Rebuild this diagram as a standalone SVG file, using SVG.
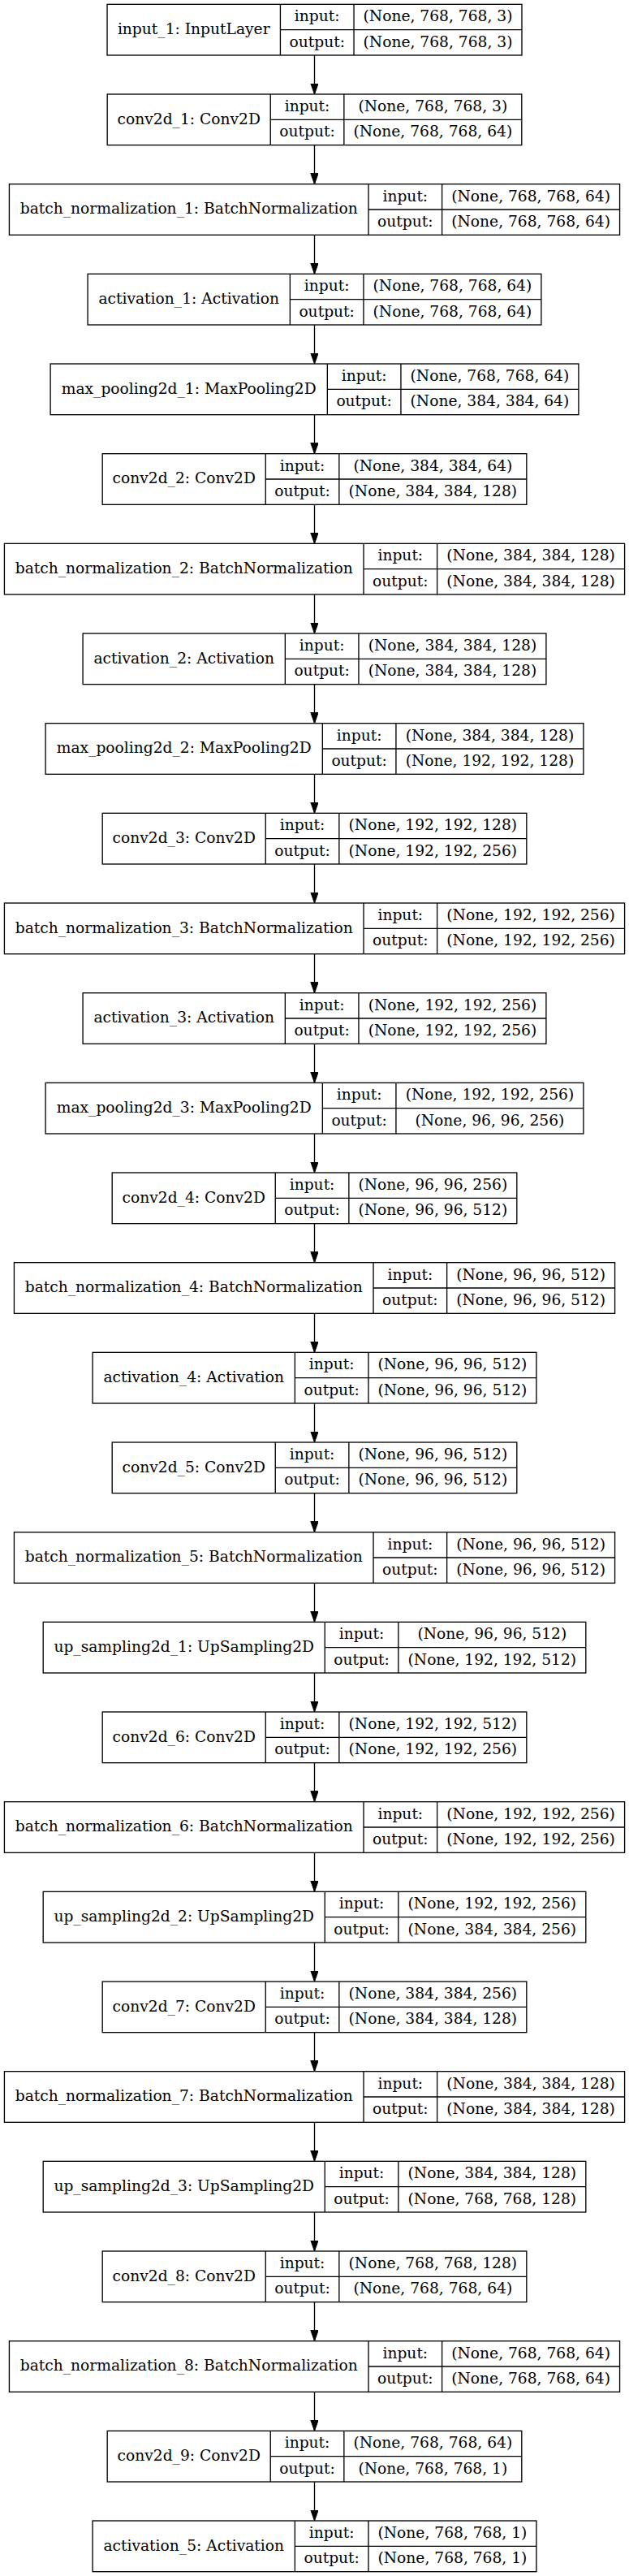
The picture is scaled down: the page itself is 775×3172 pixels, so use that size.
<svg xmlns="http://www.w3.org/2000/svg" width="775" height="3172" viewBox="0 0 775 3172">
<style>
.box{fill:#fff;stroke:#000;stroke-width:1.33}
.sep{fill:none;stroke:#000;stroke-width:1.33}
.edge{fill:none;stroke:#000;stroke-width:1.33}
text{font-family:"DejaVu Serif","Liberation Serif",serif;font-size:18.67px;fill:#000;text-anchor:middle}
</style>
<defs>
<marker id="ah" markerUnits="userSpaceOnUse" viewBox="0 0 14 10" refX="13.33" refY="4.67" markerWidth="14" markerHeight="10" orient="auto">
<path d="M0,0 L13.33,4.67 L0,9.33 Z" fill="#000" stroke="#000" stroke-width="1"/>
</marker>
</defs>
<rect width="775" height="3172" fill="#fff"/>
<g id="connectors">
<path class="edge" marker-end="url(#ah)" d="M387.5,68 V116"/>
<path class="edge" marker-end="url(#ah)" d="M387.5,178.67 V226.67"/>
<path class="edge" marker-end="url(#ah)" d="M387.5,289.33 V337.33"/>
<path class="edge" marker-end="url(#ah)" d="M387.5,400 V448"/>
<path class="edge" marker-end="url(#ah)" d="M387.5,510.67 V558.67"/>
<path class="edge" marker-end="url(#ah)" d="M387.5,621.33 V669.33"/>
<path class="edge" marker-end="url(#ah)" d="M387.5,732 V780"/>
<path class="edge" marker-end="url(#ah)" d="M387.5,842.67 V890.67"/>
<path class="edge" marker-end="url(#ah)" d="M387.5,953.33 V1001.33"/>
<path class="edge" marker-end="url(#ah)" d="M387.5,1064 V1112"/>
<path class="edge" marker-end="url(#ah)" d="M387.5,1174.67 V1222.67"/>
<path class="edge" marker-end="url(#ah)" d="M387.5,1285.33 V1333.33"/>
<path class="edge" marker-end="url(#ah)" d="M387.5,1396 V1444"/>
<path class="edge" marker-end="url(#ah)" d="M387.5,1506.67 V1554.67"/>
<path class="edge" marker-end="url(#ah)" d="M387.5,1617.33 V1665.33"/>
<path class="edge" marker-end="url(#ah)" d="M387.5,1728 V1776"/>
<path class="edge" marker-end="url(#ah)" d="M387.5,1838.67 V1886.67"/>
<path class="edge" marker-end="url(#ah)" d="M387.5,1949.33 V1997.33"/>
<path class="edge" marker-end="url(#ah)" d="M387.5,2060 V2108"/>
<path class="edge" marker-end="url(#ah)" d="M387.5,2170.67 V2218.67"/>
<path class="edge" marker-end="url(#ah)" d="M387.5,2281.33 V2329.33"/>
<path class="edge" marker-end="url(#ah)" d="M387.5,2392 V2440"/>
<path class="edge" marker-end="url(#ah)" d="M387.5,2502.67 V2550.67"/>
<path class="edge" marker-end="url(#ah)" d="M387.5,2613.33 V2661.33"/>
<path class="edge" marker-end="url(#ah)" d="M387.5,2724 V2772"/>
<path class="edge" marker-end="url(#ah)" d="M387.5,2834.67 V2882.67"/>
<path class="edge" marker-end="url(#ah)" d="M387.5,2945.33 V2993.33"/>
<path class="edge" marker-end="url(#ah)" d="M387.5,3056 V3104"/>
</g>

<g id="input_1" transform="translate(0,5.33)">
<rect class="box" x="132.03" y="0" width="510.95" height="62.67"/>
<path class="sep" d="M345.43,0 V62.67 M436.03,0 V62.67 M345.43,31.33 H642.98"/>
<text x="238.73" y="36.73">input_1: InputLayer</text>
<text x="390.73" y="21.07">input:</text><text x="390.73" y="52.4">output:</text>
<text x="539.5" y="21.07">(None, 768, 768, 3)</text><text x="539.5" y="52.4">(None, 768, 768, 3)</text>
</g>

<g id="conv2d_1" transform="translate(0,116)">
<rect class="box" x="132.19" y="0" width="510.62" height="62.67"/>
<path class="sep" d="M333.25,0 V62.67 M423.85,0 V62.67 M333.25,31.33 H642.81"/>
<text x="232.72" y="36.73">conv2d_1: Conv2D</text>
<text x="378.55" y="21.07">input:</text><text x="378.55" y="52.4">output:</text>
<text x="533.33" y="21.07">(None, 768, 768, 3)</text><text x="533.33" y="52.4">(None, 768, 768, 64)</text>
</g>

<g id="batch_normalization_1" transform="translate(0,226.67)">
<rect class="box" x="11.42" y="0" width="752.16" height="62.67"/>
<path class="sep" d="M454.02,0 V62.67 M544.62,0 V62.67 M454.02,31.33 H763.58"/>
<text x="232.72" y="36.73">batch_normalization_1: BatchNormalization</text>
<text x="499.32" y="21.07">input:</text><text x="499.32" y="52.4">output:</text>
<text x="654.1" y="21.07">(None, 768, 768, 64)</text><text x="654.1" y="52.4">(None, 768, 768, 64)</text>
</g>

<g id="activation_1" transform="translate(0,337.33)">
<rect class="box" x="108.09" y="0" width="558.82" height="62.67"/>
<path class="sep" d="M357.35,0 V62.67 M447.95,0 V62.67 M357.35,31.33 H666.91"/>
<text x="232.72" y="36.73">activation_1: Activation</text>
<text x="402.65" y="21.07">input:</text><text x="402.65" y="52.4">output:</text>
<text x="557.43" y="21.07">(None, 768, 768, 64)</text><text x="557.43" y="52.4">(None, 768, 768, 64)</text>
</g>

<g id="max_pooling2d_1" transform="translate(0,448)">
<rect class="box" x="62.11" y="0" width="650.79" height="62.67"/>
<path class="sep" d="M403.34,0 V62.67 M493.94,0 V62.67 M403.34,31.33 H712.9"/>
<text x="232.72" y="36.73">max_pooling2d_1: MaxPooling2D</text>
<text x="448.64" y="21.07">input:</text><text x="448.64" y="52.4">output:</text>
<text x="603.42" y="21.07">(None, 768, 768, 64)</text><text x="603.42" y="52.4">(None, 384, 384, 64)</text>
</g>

<g id="conv2d_2" transform="translate(0,558.67)">
<rect class="box" x="126.19" y="0" width="522.63" height="62.67"/>
<path class="sep" d="M327.25,0 V62.67 M417.85,0 V62.67 M327.25,31.33 H648.82"/>
<text x="226.72" y="36.73">conv2d_2: Conv2D</text>
<text x="372.55" y="21.07">input:</text><text x="372.55" y="52.4">output:</text>
<text x="533.34" y="21.07">(None, 384, 384, 64)</text><text x="533.34" y="52.4">(None, 384, 384, 128)</text>
</g>

<g id="batch_normalization_2" transform="translate(0,669.33)">
<rect class="box" x="5.42" y="0" width="764.17" height="62.67"/>
<path class="sep" d="M448.02,0 V62.67 M538.62,0 V62.67 M448.02,31.33 H769.59"/>
<text x="226.72" y="36.73">batch_normalization_2: BatchNormalization</text>
<text x="493.32" y="21.07">input:</text><text x="493.32" y="52.4">output:</text>
<text x="654.1" y="21.07">(None, 384, 384, 128)</text><text x="654.1" y="52.4">(None, 384, 384, 128)</text>
</g>

<g id="activation_2" transform="translate(0,780)">
<rect class="box" x="102.09" y="0" width="570.83" height="62.67"/>
<path class="sep" d="M351.35,0 V62.67 M441.95,0 V62.67 M351.35,31.33 H672.92"/>
<text x="226.72" y="36.73">activation_2: Activation</text>
<text x="396.65" y="21.07">input:</text><text x="396.65" y="52.4">output:</text>
<text x="557.44" y="21.07">(None, 384, 384, 128)</text><text x="557.44" y="52.4">(None, 384, 384, 128)</text>
</g>

<g id="max_pooling2d_2" transform="translate(0,890.67)">
<rect class="box" x="56.1" y="0" width="662.8" height="62.67"/>
<path class="sep" d="M397.33,0 V62.67 M487.93,0 V62.67 M397.33,31.33 H718.9"/>
<text x="226.72" y="36.73">max_pooling2d_2: MaxPooling2D</text>
<text x="442.63" y="21.07">input:</text><text x="442.63" y="52.4">output:</text>
<text x="603.42" y="21.07">(None, 384, 384, 128)</text><text x="603.42" y="52.4">(None, 192, 192, 128)</text>
</g>

<g id="conv2d_3" transform="translate(0,1001.33)">
<rect class="box" x="126.19" y="0" width="522.63" height="62.67"/>
<path class="sep" d="M327.25,0 V62.67 M417.85,0 V62.67 M327.25,31.33 H648.82"/>
<text x="226.72" y="36.73">conv2d_3: Conv2D</text>
<text x="372.55" y="21.07">input:</text><text x="372.55" y="52.4">output:</text>
<text x="533.34" y="21.07">(None, 192, 192, 128)</text><text x="533.34" y="52.4">(None, 192, 192, 256)</text>
</g>

<g id="batch_normalization_3" transform="translate(0,1112)">
<rect class="box" x="5.42" y="0" width="764.17" height="62.67"/>
<path class="sep" d="M448.02,0 V62.67 M538.62,0 V62.67 M448.02,31.33 H769.59"/>
<text x="226.72" y="36.73">batch_normalization_3: BatchNormalization</text>
<text x="493.32" y="21.07">input:</text><text x="493.32" y="52.4">output:</text>
<text x="654.1" y="21.07">(None, 192, 192, 256)</text><text x="654.1" y="52.4">(None, 192, 192, 256)</text>
</g>

<g id="activation_3" transform="translate(0,1222.67)">
<rect class="box" x="102.09" y="0" width="570.83" height="62.67"/>
<path class="sep" d="M351.35,0 V62.67 M441.95,0 V62.67 M351.35,31.33 H672.92"/>
<text x="226.72" y="36.73">activation_3: Activation</text>
<text x="396.65" y="21.07">input:</text><text x="396.65" y="52.4">output:</text>
<text x="557.44" y="21.07">(None, 192, 192, 256)</text><text x="557.44" y="52.4">(None, 192, 192, 256)</text>
</g>

<g id="max_pooling2d_3" transform="translate(0,1333.33)">
<rect class="box" x="56.1" y="0" width="662.8" height="62.67"/>
<path class="sep" d="M397.33,0 V62.67 M487.93,0 V62.67 M397.33,31.33 H718.9"/>
<text x="226.72" y="36.73">max_pooling2d_3: MaxPooling2D</text>
<text x="442.63" y="21.07">input:</text><text x="442.63" y="52.4">output:</text>
<text x="603.42" y="21.07">(None, 192, 192, 256)</text><text x="603.42" y="52.4">(None, 96, 96, 256)</text>
</g>

<g id="conv2d_4" transform="translate(0,1444)">
<rect class="box" x="138.2" y="0" width="498.61" height="62.67"/>
<path class="sep" d="M339.26,0 V62.67 M429.86,0 V62.67 M339.26,31.33 H636.8"/>
<text x="238.73" y="36.73">conv2d_4: Conv2D</text>
<text x="384.56" y="21.07">input:</text><text x="384.56" y="52.4">output:</text>
<text x="533.33" y="21.07">(None, 96, 96, 256)</text><text x="533.33" y="52.4">(None, 96, 96, 512)</text>
</g>

<g id="batch_normalization_4" transform="translate(0,1554.67)">
<rect class="box" x="17.43" y="0" width="740.15" height="62.67"/>
<path class="sep" d="M460.03,0 V62.67 M550.63,0 V62.67 M460.03,31.33 H757.58"/>
<text x="238.73" y="36.73">batch_normalization_4: BatchNormalization</text>
<text x="505.33" y="21.07">input:</text><text x="505.33" y="52.4">output:</text>
<text x="654.1" y="21.07">(None, 96, 96, 512)</text><text x="654.1" y="52.4">(None, 96, 96, 512)</text>
</g>

<g id="activation_4" transform="translate(0,1665.33)">
<rect class="box" x="114.1" y="0" width="546.81" height="62.67"/>
<path class="sep" d="M363.36,0 V62.67 M453.96,0 V62.67 M363.36,31.33 H660.91"/>
<text x="238.73" y="36.73">activation_4: Activation</text>
<text x="408.66" y="21.07">input:</text><text x="408.66" y="52.4">output:</text>
<text x="557.44" y="21.07">(None, 96, 96, 512)</text><text x="557.44" y="52.4">(None, 96, 96, 512)</text>
</g>

<g id="conv2d_5" transform="translate(0,1776)">
<rect class="box" x="138.2" y="0" width="498.61" height="62.67"/>
<path class="sep" d="M339.26,0 V62.67 M429.86,0 V62.67 M339.26,31.33 H636.8"/>
<text x="238.73" y="36.73">conv2d_5: Conv2D</text>
<text x="384.56" y="21.07">input:</text><text x="384.56" y="52.4">output:</text>
<text x="533.33" y="21.07">(None, 96, 96, 512)</text><text x="533.33" y="52.4">(None, 96, 96, 512)</text>
</g>

<g id="batch_normalization_5" transform="translate(0,1886.67)">
<rect class="box" x="17.43" y="0" width="740.15" height="62.67"/>
<path class="sep" d="M460.03,0 V62.67 M550.63,0 V62.67 M460.03,31.33 H757.58"/>
<text x="238.73" y="36.73">batch_normalization_5: BatchNormalization</text>
<text x="505.33" y="21.07">input:</text><text x="505.33" y="52.4">output:</text>
<text x="654.1" y="21.07">(None, 96, 96, 512)</text><text x="654.1" y="52.4">(None, 96, 96, 512)</text>
</g>

<g id="up_sampling2d_1" transform="translate(0,1997.33)">
<rect class="box" x="53.19" y="0" width="668.62" height="62.67"/>
<path class="sep" d="M400.24,0 V62.67 M490.84,0 V62.67 M400.24,31.33 H721.81"/>
<text x="226.72" y="36.73">up_sampling2d_1: UpSampling2D</text>
<text x="445.54" y="21.07">input:</text><text x="445.54" y="52.4">output:</text>
<text x="606.33" y="21.07">(None, 96, 96, 512)</text><text x="606.33" y="52.4">(None, 192, 192, 512)</text>
</g>

<g id="conv2d_6" transform="translate(0,2108)">
<rect class="box" x="126.19" y="0" width="522.63" height="62.67"/>
<path class="sep" d="M327.25,0 V62.67 M417.85,0 V62.67 M327.25,31.33 H648.82"/>
<text x="226.72" y="36.73">conv2d_6: Conv2D</text>
<text x="372.55" y="21.07">input:</text><text x="372.55" y="52.4">output:</text>
<text x="533.34" y="21.07">(None, 192, 192, 512)</text><text x="533.34" y="52.4">(None, 192, 192, 256)</text>
</g>

<g id="batch_normalization_6" transform="translate(0,2218.67)">
<rect class="box" x="5.42" y="0" width="764.17" height="62.67"/>
<path class="sep" d="M448.02,0 V62.67 M538.62,0 V62.67 M448.02,31.33 H769.59"/>
<text x="226.72" y="36.73">batch_normalization_6: BatchNormalization</text>
<text x="493.32" y="21.07">input:</text><text x="493.32" y="52.4">output:</text>
<text x="654.1" y="21.07">(None, 192, 192, 256)</text><text x="654.1" y="52.4">(None, 192, 192, 256)</text>
</g>

<g id="up_sampling2d_2" transform="translate(0,2329.33)">
<rect class="box" x="53.19" y="0" width="668.62" height="62.67"/>
<path class="sep" d="M400.24,0 V62.67 M490.84,0 V62.67 M400.24,31.33 H721.81"/>
<text x="226.72" y="36.73">up_sampling2d_2: UpSampling2D</text>
<text x="445.54" y="21.07">input:</text><text x="445.54" y="52.4">output:</text>
<text x="606.33" y="21.07">(None, 192, 192, 256)</text><text x="606.33" y="52.4">(None, 384, 384, 256)</text>
</g>

<g id="conv2d_7" transform="translate(0,2440)">
<rect class="box" x="126.19" y="0" width="522.63" height="62.67"/>
<path class="sep" d="M327.25,0 V62.67 M417.85,0 V62.67 M327.25,31.33 H648.82"/>
<text x="226.72" y="36.73">conv2d_7: Conv2D</text>
<text x="372.55" y="21.07">input:</text><text x="372.55" y="52.4">output:</text>
<text x="533.34" y="21.07">(None, 384, 384, 256)</text><text x="533.34" y="52.4">(None, 384, 384, 128)</text>
</g>

<g id="batch_normalization_7" transform="translate(0,2550.67)">
<rect class="box" x="5.42" y="0" width="764.17" height="62.67"/>
<path class="sep" d="M448.02,0 V62.67 M538.62,0 V62.67 M448.02,31.33 H769.59"/>
<text x="226.72" y="36.73">batch_normalization_7: BatchNormalization</text>
<text x="493.32" y="21.07">input:</text><text x="493.32" y="52.4">output:</text>
<text x="654.1" y="21.07">(None, 384, 384, 128)</text><text x="654.1" y="52.4">(None, 384, 384, 128)</text>
</g>

<g id="up_sampling2d_3" transform="translate(0,2661.33)">
<rect class="box" x="53.19" y="0" width="668.62" height="62.67"/>
<path class="sep" d="M400.24,0 V62.67 M490.84,0 V62.67 M400.24,31.33 H721.81"/>
<text x="226.72" y="36.73">up_sampling2d_3: UpSampling2D</text>
<text x="445.54" y="21.07">input:</text><text x="445.54" y="52.4">output:</text>
<text x="606.33" y="21.07">(None, 384, 384, 128)</text><text x="606.33" y="52.4">(None, 768, 768, 128)</text>
</g>

<g id="conv2d_8" transform="translate(0,2772)">
<rect class="box" x="126.19" y="0" width="522.63" height="62.67"/>
<path class="sep" d="M327.25,0 V62.67 M417.85,0 V62.67 M327.25,31.33 H648.82"/>
<text x="226.72" y="36.73">conv2d_8: Conv2D</text>
<text x="372.55" y="21.07">input:</text><text x="372.55" y="52.4">output:</text>
<text x="533.34" y="21.07">(None, 768, 768, 128)</text><text x="533.34" y="52.4">(None, 768, 768, 64)</text>
</g>

<g id="batch_normalization_8" transform="translate(0,2882.67)">
<rect class="box" x="11.42" y="0" width="752.16" height="62.67"/>
<path class="sep" d="M454.02,0 V62.67 M544.62,0 V62.67 M454.02,31.33 H763.58"/>
<text x="232.72" y="36.73">batch_normalization_8: BatchNormalization</text>
<text x="499.32" y="21.07">input:</text><text x="499.32" y="52.4">output:</text>
<text x="654.1" y="21.07">(None, 768, 768, 64)</text><text x="654.1" y="52.4">(None, 768, 768, 64)</text>
</g>

<g id="conv2d_9" transform="translate(0,2993.33)">
<rect class="box" x="132.19" y="0" width="510.62" height="62.67"/>
<path class="sep" d="M333.25,0 V62.67 M423.85,0 V62.67 M333.25,31.33 H642.81"/>
<text x="232.72" y="36.73">conv2d_9: Conv2D</text>
<text x="378.55" y="21.07">input:</text><text x="378.55" y="52.4">output:</text>
<text x="533.33" y="21.07">(None, 768, 768, 64)</text><text x="533.33" y="52.4">(None, 768, 768, 1)</text>
</g>

<g id="activation_5" transform="translate(0,3104)">
<rect class="box" x="114.1" y="0" width="546.81" height="62.67"/>
<path class="sep" d="M363.36,0 V62.67 M453.96,0 V62.67 M363.36,31.33 H660.91"/>
<text x="238.73" y="36.73">activation_5: Activation</text>
<text x="408.66" y="21.07">input:</text><text x="408.66" y="52.4">output:</text>
<text x="557.44" y="21.07">(None, 768, 768, 1)</text><text x="557.44" y="52.4">(None, 768, 768, 1)</text>
</g>
</svg>
